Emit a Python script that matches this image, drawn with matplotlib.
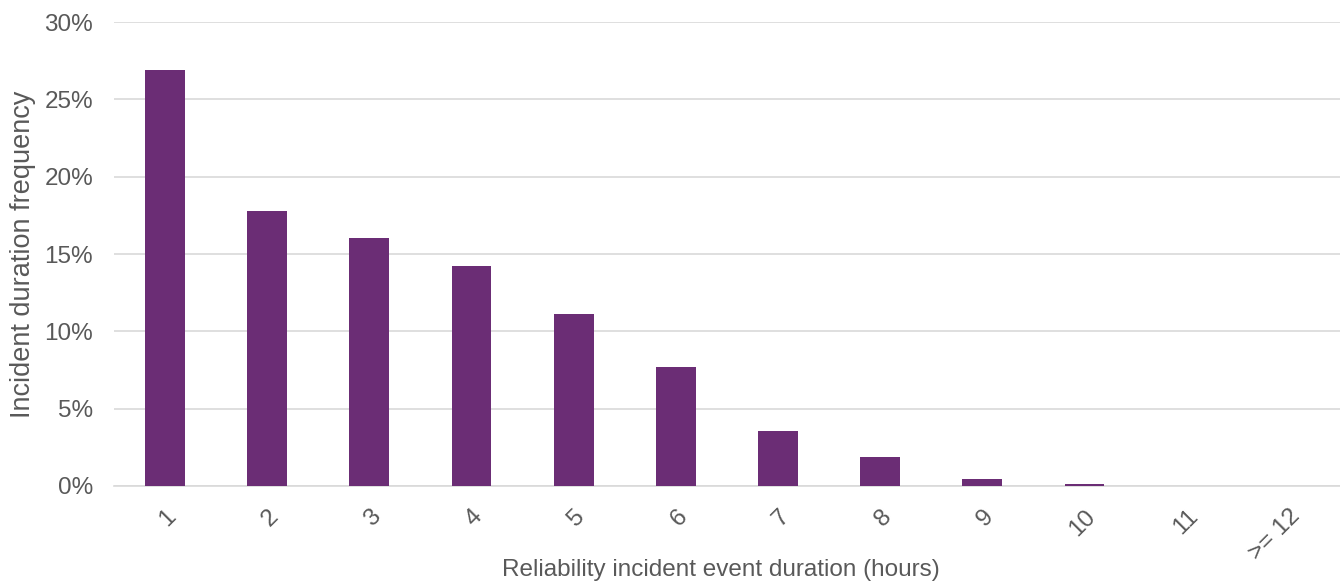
import numpy as np
import matplotlib.pyplot as plt
from matplotlib.ticker import PercentFormatter

durations = ["1", "2", "3", "4", "5", "6", "7", "8", "9", "10", "11", ">= 12"]
frequency = [26.9, 17.8, 16.05, 14.25, 11.1, 7.7, 3.55, 1.88, 0.42, 0.11, 0.0, 0.0]

plt.rcParams['font.family'] = ['Liberation Sans', 'DejaVu Sans']
textColor = '#595959'

fig = plt.figure(figsize=(13.4, 5.84), dpi=100)
ax = fig.add_axes([0.085, 0.168, 0.915, 0.794])

x_pos = np.arange(len(durations))
ax.bar(x_pos, frequency, width=0.39, color='#6B2D75', zorder=3)

ax.set_xlim(-0.5, len(durations) - 0.5)
ax.set_ylim(0, 30)
ax.set_yticks(np.arange(0, 31, 5))
ax.yaxis.set_major_formatter(PercentFormatter(decimals=0))
ax.set_xticks(x_pos)
ax.set_xticklabels(durations, rotation=45, ha='right', rotation_mode='anchor')

ax.grid(axis='y', color='#D9D9D9', linewidth=1.2, zorder=0)
for side in ['top', 'right', 'left']:
    ax.spines[side].set_visible(False)
ax.spines['bottom'].set_color('#D9D9D9')
ax.spines['bottom'].set_linewidth(1.2)
ax.tick_params(axis='both', length=0, labelsize=17.5, colors=textColor)
ax.tick_params(axis='y', pad=15)
ax.tick_params(axis='x', pad=14)

ax.set_ylabel('Incident duration frequency', fontsize=19.5, color=textColor, labelpad=6)
ax.set_xlabel('Reliability incident event duration (hours)', fontsize=17.5, color=textColor)
# rotated tick labels push the label down, so pin it where the reference has it
ax.xaxis.set_label_coords(0.495, -0.158)

fig.savefig('out.png', dpi=100)
